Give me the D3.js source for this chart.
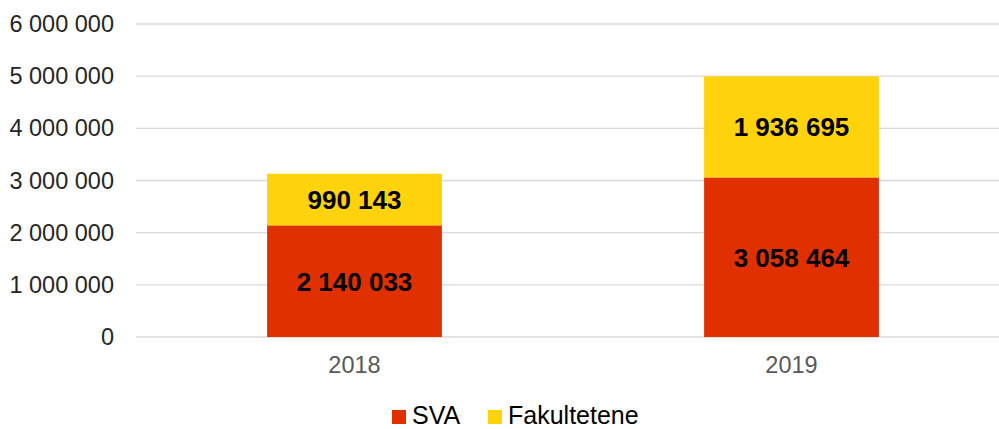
<!DOCTYPE html>
<html><head><meta charset="utf-8">
<script src="https://cdn.jsdelivr.net/npm/d3@7"></script>
<style>body{margin:0;background:#fff}svg{display:block}text{font-family:"Liberation Sans",Arial,sans-serif}</style>
</head><body><svg id="c" width="999" height="429"></svg>
<script>
const categories = ["2018", "2019"];
const seriesNames = ["SVA", "Fakultetene"];
const svaValues = [2140033, 3058464];
const fakValues = [990143, 1936695];
const yTicks = [0, 1000000, 2000000, 3000000, 4000000, 5000000, 6000000];
const colors = ["#E03000", "#FFD30C"];

const svg = d3.select("#c");
const fmt = v => d3.format(",")(v).replace(/,/g, " ");
const x = d3.scaleBand().domain(categories).range([136, 1010]).paddingInner(0.6).paddingOuter(0.3);
const y = d3.scaleLinear().domain([0, 6000000]).range([337, 24]);

// gridlines
svg.append("g").selectAll("line").data(yTicks).join("line")
  .attr("x1", 136).attr("x2", 1010)
  .attr("y1", d => y(d)).attr("y2", d => y(d))
  .attr("stroke", "#d9d9d9").attr("stroke-width", 1.3);

// y axis labels
const yAxis = svg.append("g").attr("transform", "translate(114,0)")
  .call(d3.axisLeft(y).tickValues(yTicks).tickFormat(fmt).tickSize(0).tickPadding(0));
yAxis.select(".domain").remove();
yAxis.selectAll("text").attr("font-size", 23.5).attr("fill", "#262626")
  .attr("font-family", "Liberation Sans, Arial, sans-serif");

// x axis labels
const xAxis = svg.append("g").attr("transform", "translate(0,337)")
  .call(d3.axisBottom(x).tickSize(0).tickPadding(0));
xAxis.select(".domain").remove();
xAxis.selectAll("text").attr("font-size", 23.5).attr("fill", "#595959")
  .attr("y", 36).attr("dy", 0)
  .attr("font-family", "Liberation Sans, Arial, sans-serif");

const rows = categories.map((c, i) => ({cat: c, SVA: svaValues[i], Fakultetene: fakValues[i]}));
const stack = d3.stack().keys(seriesNames)(rows);

const groups = svg.append("g").selectAll("g").data(stack).join("g").attr("fill", (d, i) => colors[i]);
groups.selectAll("rect").data(d => d).join("rect")
  .attr("x", d => x(d.data.cat)).attr("width", x.bandwidth())
  .attr("y", d => y(d[1])).attr("height", d => y(d[0]) - y(d[1]));

const labels = svg.append("g");
stack.forEach(s => {
  s.forEach(d => {
    labels.append("text")
      .attr("x", x(d.data.cat) + x.bandwidth() / 2)
      .attr("y", (y(d[0]) + y(d[1])) / 2)
      .attr("dy", "0.36em")
      .attr("text-anchor", "middle")
      .attr("font-size", 26).attr("font-weight", "bold").attr("fill", "#000")
      .text(fmt(d[1] - d[0]));
  });
});

// legend
const legendX = [392, 488];
const leg = svg.append("g");
seriesNames.forEach((n, i) => {
  leg.append("rect").attr("x", legendX[i]).attr("y", 410).attr("width", 14).attr("height", 14).attr("fill", colors[i]);
  leg.append("text").attr("x", legendX[i] + 20).attr("y", 423.5).attr("font-size", 25).attr("fill", "#000").text(n);
});
</script></body></html>
